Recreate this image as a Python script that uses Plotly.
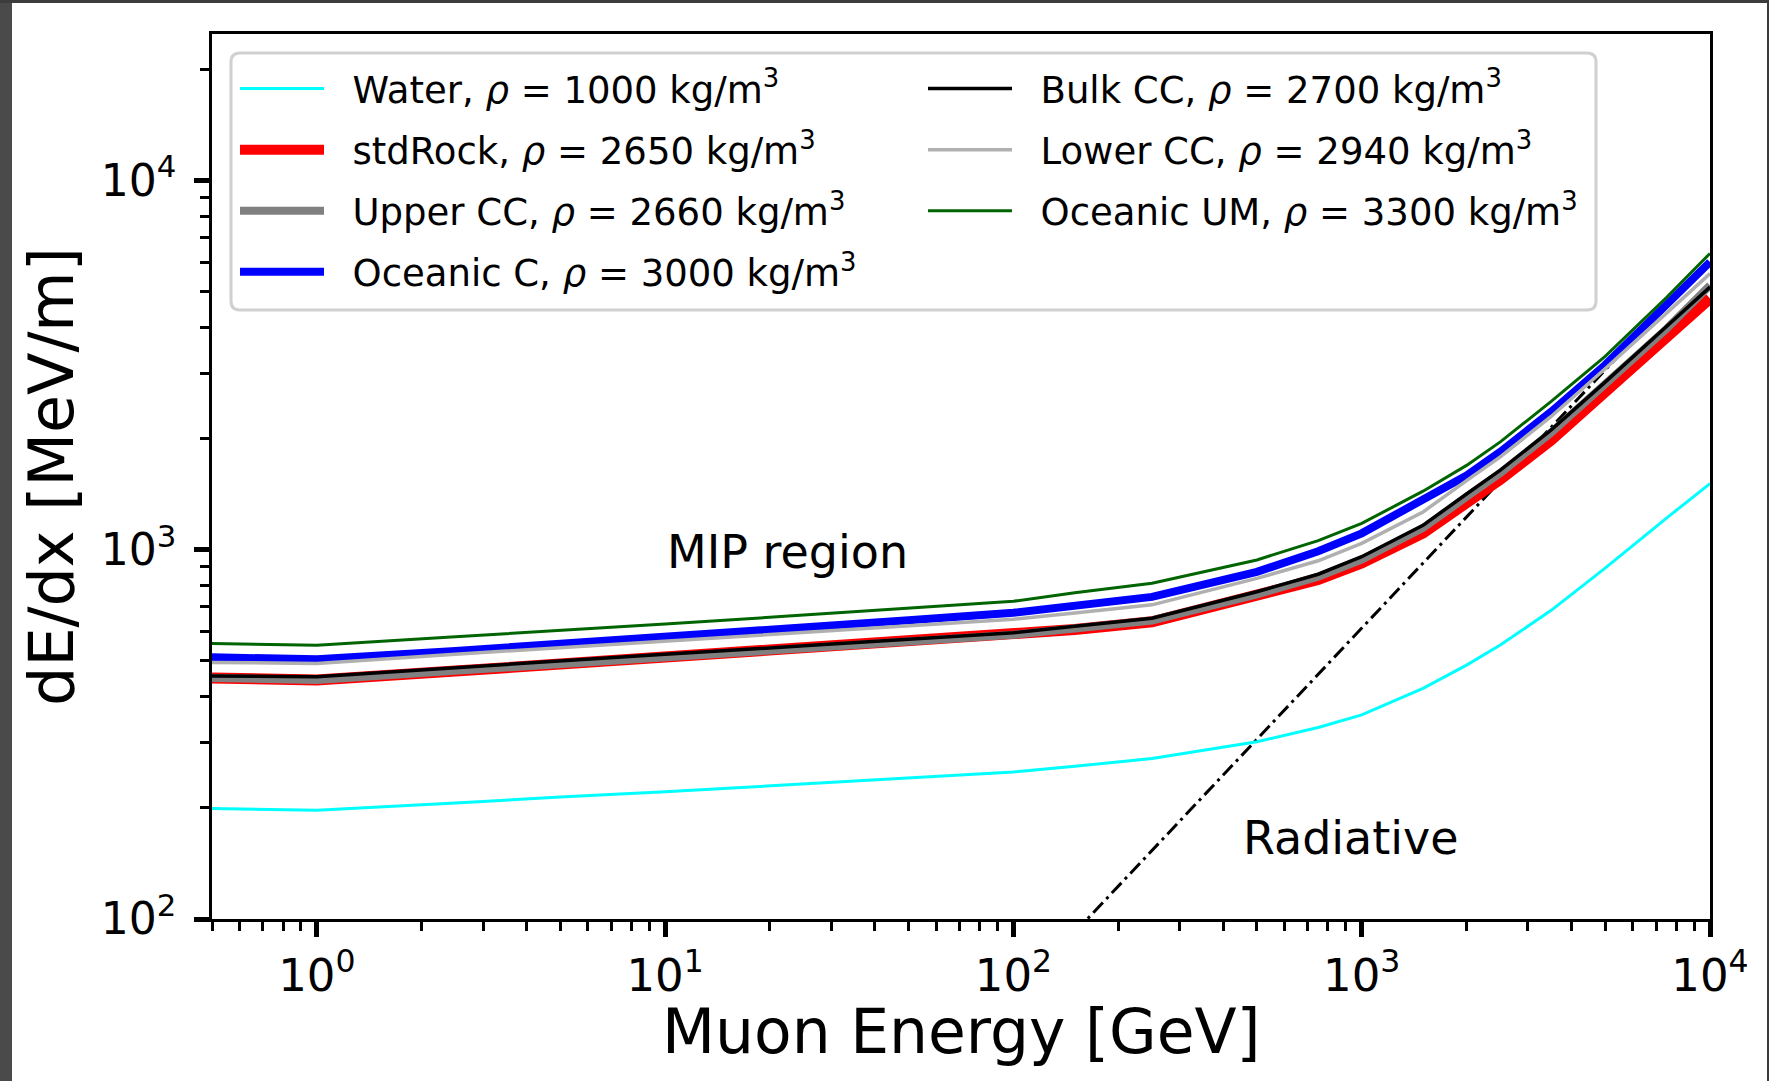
import numpy as np
import plotly.graph_objects as go

# ---------------- data ----------------
energy_gev = [0.5, 1, 2.5, 5, 10, 25, 50, 100, 150, 250, 500, 750, 1000,
              1500, 2000, 2500, 3500, 5000, 7500, 10000]

water      = [199, 197, 206, 214, 221, 232, 241, 250, 259, 272, 302, 330, 357,
              421, 487, 552, 685, 891, 1217, 1510]
std_rock   = [449, 444, 469, 490, 511, 538, 561, 585, 608, 638, 748, 830, 920,
              1110, 1340, 1550, 1980, 2680, 3770, 4790]
upper_cc   = [449, 444, 470, 491, 512, 540, 563, 588, 612, 643, 757, 845, 940,
              1145, 1390, 1612, 2075, 2800, 3960, 5200]
oceanic_c  = [511, 505, 532, 555, 577, 614, 644, 675, 706, 745, 871, 990, 1107,
              1365, 1588, 1841, 2363, 3164, 4563, 6010]
bulk_cc    = [455, 453, 479, 500, 521, 549, 572, 596, 620, 652, 769, 858, 957,
              1164, 1415, 1641, 2110, 2843, 4020, 5140]
lower_cc   = [495, 492, 521, 543, 566, 597, 622, 648, 674, 709, 836, 933, 1040,
              1265, 1538, 1784, 2294, 3090, 4370, 5590]
oceanic_um = [557, 551, 581, 604, 629, 665, 695, 725, 764, 811, 938, 1058, 1178,
              1440, 1691, 1958, 2520, 3338, 4816, 6340]

radiative_energy = [150, 7000]
radiative_dedx = [92, 4290]

series_names = [
    "Water, <i>ρ</i> = 1000 kg/m<sup>3</sup>",
    "stdRock, <i>ρ</i> = 2650 kg/m<sup>3</sup>",
    "Upper CC, <i>ρ</i> = 2660 kg/m<sup>3</sup>",
    "Oceanic C, <i>ρ</i> = 3000 kg/m<sup>3</sup>",
    "Bulk CC, <i>ρ</i> = 2700 kg/m<sup>3</sup>",
    "Lower CC, <i>ρ</i> = 2940 kg/m<sup>3</sup>",
    "Oceanic UM, <i>ρ</i> = 3300 kg/m<sup>3</sup>",
]
series_values = [water, std_rock, upper_cc, oceanic_c, bulk_cc, lower_cc, oceanic_um]
series_colors = ["#00ffff", "#ff0000", "#808080", "#0000ff", "#000000", "#b0b0b0", "#006400"]
series_widths = [3, 11, 8, 8, 3.5, 3.5, 3]
series_legend = ["legend", "legend", "legend", "legend", "legend2", "legend2", "legend2"]

x_tick_vals = [1, 10, 100, 1000, 10000]
x_tick_text = ["10<sup>0</sup>", "10<sup>1</sup>", "10<sup>2</sup>", "10<sup>3</sup>", "10<sup>4</sup>"]
y_tick_vals = [100, 1000, 10000]
y_tick_text = ["10<sup>2</sup>", "10<sup>3</sup>", "10<sup>4</sup>"]

FONT = "DejaVu Sans"
GAP = "\u00a0\u00a0"   # spacing between legend line sample and its text

fig = go.Figure()

# dash-dot radiative asymptote (drawn underneath)
fig.add_trace(go.Scatter(
    x=radiative_energy, y=radiative_dedx, mode="lines",
    line=dict(color="black", width=3, dash="14px,5px,3px,5px"),
    showlegend=False, hoverinfo="skip"))

for i, (name, vals, col, w, lg) in enumerate(zip(series_names, series_values, series_colors,
                                                series_widths, series_legend)):
    fig.add_trace(go.Scatter(
        x=energy_gev, y=vals, mode="lines", name=GAP + name,
        line=dict(color=col, width=w),
        legend=lg, legendgroup=f"g{i}"))

minor_x = [m * 10.0 ** k for k in range(-1, 4) for m in range(2, 10)]
minor_x = [v for v in minor_x if 0.5 <= v <= 10000]
minor_y = [m * 10.0 ** k for k in range(2, 5) for m in range(2, 10)]
minor_y = [v for v in minor_y if v <= 25000]

W, H = 1769, 1081
L, R, T, B = 212, 59, 34, 162
PW, PH = W - L - R, H - T - B

def px(xp):
    return (xp - L) / PW

def py(yp):
    return (H - B - yp) / PH

axis_common = dict(
    showline=True, linecolor="black", linewidth=2.5, mirror=True,
    ticks="outside", ticklen=15, tickwidth=4.5, tickcolor="black",
    showgrid=False, zeroline=False,
)

fig.update_xaxes(
    type="log", range=[np.log10(0.5), 4],
    tickmode="array", tickvals=x_tick_vals, ticktext=x_tick_text,
    tickfont=dict(family=FONT, size=45, color="black"),
    minor=dict(tickmode="array", tickvals=minor_x, ticks="outside",
               ticklen=9, tickwidth=2.5, tickcolor="black", showgrid=False),
    ticklabelstandoff=0,
    **axis_common)

fig.update_yaxes(
    type="log", range=[2, np.log10(24900)],
    tickmode="array", tickvals=y_tick_vals, ticktext=y_tick_text,
    tickfont=dict(family=FONT, size=44, color="black"),
    minor=dict(tickmode="array", tickvals=minor_y, ticks="outside",
               ticklen=9, tickwidth=2.5, tickcolor="black", showgrid=False),
    title=dict(text="dE/dx [MeV/m]", standoff=8,
               font=dict(family=FONT, size=62, color="black")),
    ticklabelstandoff=9,
    **axis_common)

legend_common = dict(
    font=dict(family=FONT, size=37, color="black"),
    bgcolor="rgba(0,0,0,0)", borderwidth=0,
    orientation="v", traceorder="grouped", tracegroupgap=10,
    itemwidth=84, xanchor="left", yanchor="top",
    itemclick=False, itemdoubleclick=False,
)

fig.update_layout(
    width=W, height=H,
    margin=dict(l=L, r=R, t=T, b=B, pad=0),
    paper_bgcolor="white", plot_bgcolor="white",
    font=dict(family=FONT, color="black"),
    legend=dict(x=px(235), y=py(58), **legend_common),
    legend2=dict(x=px(923), y=py(58), **legend_common),
    showlegend=True,
)

# x-axis title, placed as centred text under the tick labels
fig.add_annotation(x=0.5, y=py(1032), xref="paper", yref="paper",
                   xanchor="center", yanchor="middle", showarrow=False,
                   text="Muon Energy [GeV]", borderpad=0,
                   font=dict(family=FONT, size=61.5, color="black"))

# legend frame (rounded rectangle)
x0, x1, y0, y1 = px(231), px(1596), py(310), py(53)
rx, ry = 9 / PW, 9 / PH
frame = (f"M{x0+rx},{y0} L{x1-rx},{y0} Q{x1},{y0} {x1},{y0+ry} "
         f"L{x1},{y1-ry} Q{x1},{y1} {x1-rx},{y1} L{x0+rx},{y1} "
         f"Q{x0},{y1} {x0},{y1-ry} L{x0},{y0+ry} Q{x0},{y0} {x0+rx},{y0} Z")
fig.add_shape(type="path", path=frame, xref="paper", yref="paper",
              line=dict(color="#d0d0d0", width=3), fillcolor="rgba(255,255,255,0.8)",
              layer="above")

# dark frame of the surrounding screenshot
fig.add_shape(type="rect", xref="paper", yref="paper", x0=px(0), x1=px(12), y0=py(H), y1=py(0),
              line_width=0, fillcolor="#4a4a4a", layer="below")
fig.add_shape(type="rect", xref="paper", yref="paper", x0=px(0), x1=px(W), y0=py(3), y1=py(0),
              line_width=0, fillcolor="#3c3c3c", layer="below")
fig.add_shape(type="rect", xref="paper", yref="paper", x0=px(1767), x1=px(W), y0=py(H), y1=py(0),
              line_width=0, fillcolor="#3c3c3c", layer="below")

fig.add_annotation(x=np.log10(22.4), y=np.log10(985), xref="x", yref="y",
                   text="MIP region", showarrow=False,
                   font=dict(family=FONT, size=46, color="black"))
fig.add_annotation(x=np.log10(930), y=np.log10(166), xref="x", yref="y",
                   text="Radiative", showarrow=False,
                   font=dict(family=FONT, size=46, color="black"))

fig.write_html("out.html")
